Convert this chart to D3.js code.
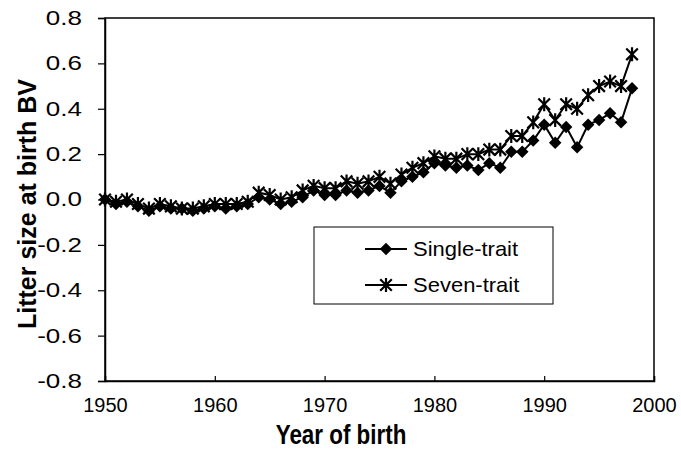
<!DOCTYPE html>
<html>
<head>
<meta charset="utf-8">
<script src="https://cdn.jsdelivr.net/npm/d3@7"></script>
<style>
  html, body { margin: 0; padding: 0; background: #fff; }
  #chart { width: 681px; height: 456px; }
  text { font-family: "Liberation Sans", Arial, sans-serif; fill: #000; }
</style>
</head>
<body>
<div id="chart"></div>
<script>
const YEARS = d3.range(1950, 1999);
const SINGLE_TRAIT = [
  0.00, -0.02, -0.01, -0.03, -0.05, -0.03, -0.04, -0.04, -0.05, -0.04,
  -0.03, -0.04, -0.03, -0.02, 0.01, 0.00, -0.02, -0.01, 0.01, 0.04,
  0.02, 0.02, 0.04, 0.03, 0.04, 0.06, 0.03, 0.08, 0.10, 0.12,
  0.16, 0.15, 0.14, 0.15, 0.13, 0.16, 0.14, 0.21, 0.21, 0.26,
  0.33, 0.25, 0.32, 0.23, 0.33, 0.35, 0.38, 0.34, 0.49
];
const SEVEN_TRAIT = [
  0.00, -0.01, 0.00, -0.02, -0.04, -0.02, -0.03, -0.04, -0.04, -0.03,
  -0.02, -0.02, -0.02, -0.01, 0.03, 0.02, 0.00, 0.01, 0.04, 0.06,
  0.05, 0.05, 0.08, 0.07, 0.08, 0.10, 0.07, 0.11, 0.14, 0.16,
  0.19, 0.18, 0.18, 0.20, 0.20, 0.22, 0.22, 0.28, 0.28, 0.34,
  0.42, 0.35, 0.42, 0.40, 0.46, 0.50, 0.52, 0.50, 0.64
];
const X_TICKS = [1950, 1960, 1970, 1980, 1990, 2000];
const Y_TICKS = [-0.8, -0.6, -0.4, -0.2, 0.0, 0.2, 0.4, 0.6, 0.8];
const SERIES_NAMES = ['Single-trait', 'Seven-trait'];

const W = 681, H = 456;
const M = { t: 18, r: 27, b: 75, l: 105 };

const svg = d3.select('#chart').append('svg')
  .attr('width', W)
  .attr('height', H)
  .attr('viewBox', `0 0 ${W} ${H}`)
  .style('display', 'block');

const x = d3.scaleLinear().domain([1950, 2000]).range([M.l, W - M.r]);
const y = d3.scaleLinear().domain([-0.8, 0.8]).range([H - M.b, M.t]);

// plot frame
svg.append('rect')
  .attr('x', M.l).attr('y', M.t)
  .attr('width', W - M.l - M.r).attr('height', H - M.t - M.b)
  .attr('fill', 'none').attr('stroke', '#000').attr('stroke-width', 1.5);

// axes (labels are a bit wide in the source, so stretch them horizontally)
const yAxis = svg.append('g')
  .attr('transform', `translate(${M.l},0)`)
  .call(d3.axisLeft(y).tickValues(Y_TICKS).tickSize(7).tickPadding(16).tickFormat(d => d.toFixed(1)));
yAxis.select('.domain').attr('stroke-width', 1.5);
yAxis.selectAll('.tick line').attr('stroke-width', 1.2);
yAxis.selectAll('text')
  .style('font-size', '20px').attr('font-family', null)
  .attr('transform', 'translate(-23,0) scale(1.3,1) translate(23,0)');

const xAxis = svg.append('g')
  .attr('transform', `translate(0,${H - M.b})`)
  .call(d3.axisBottom(x).tickValues(X_TICKS).tickSize(-5).tickPadding(17).tickFormat(d3.format('d')));
xAxis.select('.domain').attr('stroke-width', 1.5);
xAxis.selectAll('.tick line').attr('stroke-width', 1.2);
xAxis.selectAll('text').style('font-size', '20px').attr('font-family', null);

// axis titles
svg.append('text')
  .attr('transform', `translate(341,444) scale(0.8,1)`)
  .attr('text-anchor', 'middle')
  .style('font-weight', 'bold')
  .style('font-size', '28px')
  .text('Year of birth');

svg.append('text')
  .attr('transform', `translate(36,204) rotate(-90)`)
  .attr('text-anchor', 'middle')
  .style('font-weight', 'bold')
  .style('font-size', '25px')
  .text('Litter size at birth BV');

// markers
const diamond = d3.symbol().type(d3.symbolSquare).size(78);
const star = r => `M${-r},${-r}L${r},${r}M${-r},${r}L${r},${-r}M0,${-r * 1.2}L0,${r * 1.2}`;

function drawSeries(values, kind) {
  const pts = YEARS.map((yr, i) => ({ yr, v: values[i] }));
  svg.append('path')
    .datum(pts)
    .attr('fill', 'none')
    .attr('stroke', '#000')
    .attr('stroke-width', 2)
    .attr('d', d3.line().x(d => x(d.yr)).y(d => y(d.v)));
  const g = svg.append('g');
  if (kind === 'diamond') {
    g.selectAll('path').data(pts).enter().append('path')
      .attr('transform', d => `translate(${x(d.yr)},${y(d.v)}) rotate(45)`)
      .attr('d', diamond)
      .attr('fill', '#000');
  } else {
    g.selectAll('path').data(pts).enter().append('path')
      .attr('transform', d => `translate(${x(d.yr)},${y(d.v)})`)
      .attr('d', star(5.8))
      .attr('fill', 'none')
      .attr('stroke', '#000')
      .attr('stroke-width', 2.2);
  }
}
drawSeries(SINGLE_TRAIT, 'diamond');
drawSeries(SEVEN_TRAIT, 'star');

// legend
const lg = svg.append('g').attr('transform', 'translate(314,227)');
lg.append('rect')
  .attr('width', 239).attr('height', 77)
  .attr('fill', '#fff').attr('stroke', '#000').attr('stroke-width', 1);
SERIES_NAMES.forEach((name, i) => {
  const cy = 22 + i * 36;
  lg.append('line')
    .attr('x1', 51).attr('x2', 93).attr('y1', cy).attr('y2', cy)
    .attr('stroke', '#000').attr('stroke-width', 2);
  if (i === 0) {
    lg.append('path')
      .attr('transform', `translate(72,${cy}) rotate(45)`)
      .attr('d', diamond).attr('fill', '#000');
  } else {
    lg.append('path')
      .attr('transform', `translate(72,${cy})`)
      .attr('d', star(5.8))
      .attr('fill', 'none').attr('stroke', '#000').attr('stroke-width', 2.2);
  }
  lg.append('text')
    .attr('transform', `translate(99,${cy + 7}) scale(1.1,1)`)
    .style('font-size', '20px')
    .text(name);
});
</script>
</body>
</html>
